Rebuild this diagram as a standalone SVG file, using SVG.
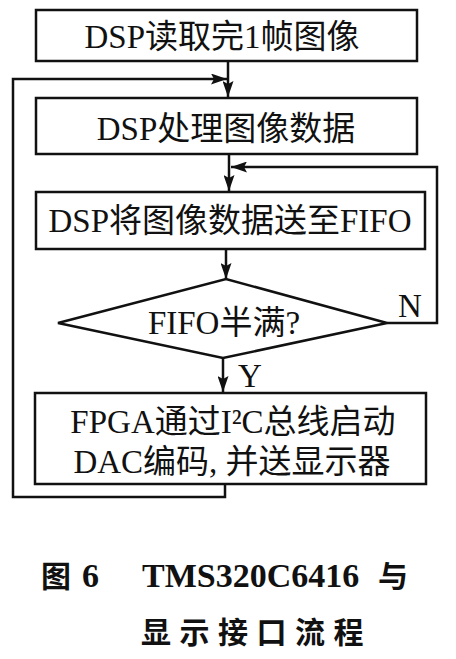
<svg xmlns="http://www.w3.org/2000/svg" width="456" height="659" viewBox="0 0 456 659">
<style>
.box{fill:#fff;stroke:#111;stroke-width:2.5}
.ln{fill:none;stroke:#111;stroke-width:2.5}
.t{font-family:"Liberation Serif","Noto Sans CJK SC",serif;font-size:33px;fill:#111;text-anchor:middle}
.cap{font-family:"Liberation Serif","Noto Sans CJK SC",serif;font-weight:bold;fill:#111}
.capz{font-family:"Noto Sans CJK SC",sans-serif;font-weight:bold;fill:#111;font-size:30px}
</style>
<defs>
<marker id="ah" markerUnits="userSpaceOnUse" markerWidth="16" markerHeight="11" refX="16" refY="5.5" orient="auto">
<path d="M0,0 L16,5.5 L0,11 L3,5.5 z" fill="#111"/>
</marker>
</defs>
<rect width="456" height="659" fill="#fff"/>
<g id="connectors">
<line class="ln" x1="228" y1="61" x2="228" y2="97" marker-end="url(#ah)"/>
<path class="ln" d="M225,484 V497 H13 V79 H227" marker-end="url(#ah)"/>
<line class="ln" x1="229" y1="154" x2="229" y2="191" marker-end="url(#ah)"/>
<path class="ln" d="M387,323 H437 V167 H231" marker-end="url(#ah)"/>
<line class="ln" x1="226" y1="249" x2="226" y2="279" marker-end="url(#ah)"/>
<line class="ln" x1="223" y1="358" x2="223" y2="392" marker-end="url(#ah)"/>
<text class="t" x="250" y="387" font-size="30">Y</text>
<text class="t" x="410" y="317">N</text>
</g>
<g id="n1">
<rect class="box" x="36" y="10" width="381" height="51"/>
<text class="t" x="222" y="48">DSP读取完1帧图像</text>
</g>
<g id="n2">
<rect class="box" x="36" y="98" width="381" height="56"/>
<text class="t" x="226" y="140">DSP处理图像数据</text>
</g>
<g id="n3">
<rect class="box" x="36" y="192" width="389" height="57"/>
<text class="t" x="230" y="232">DSP将图像数据送至FIFO</text>
</g>
<g id="n4">
<polygon class="box" points="58,323 226,279 387,323 223,358"/>
<text class="t" x="224" y="334">FIFO半满?</text>
</g>
<g id="n5">
<rect class="box" x="35" y="393" width="391" height="91"/>
<text class="t" x="233" y="433">FPGA通过I²C总线启动</text>
<text class="t" x="232" y="473">DAC编码, 并送显示器</text>
</g>
<g id="caption">
<text class="capz" x="41" y="587">图</text>
<text class="cap" x="82" y="587" font-size="34">6</text>
<text class="cap" x="142" y="587" font-size="34">TMS320C6416</text>
<text class="capz" x="378" y="587">与</text>
<text class="capz" x="141" y="643" letter-spacing="8.5">显示接口流程</text>
</g>
</svg>
